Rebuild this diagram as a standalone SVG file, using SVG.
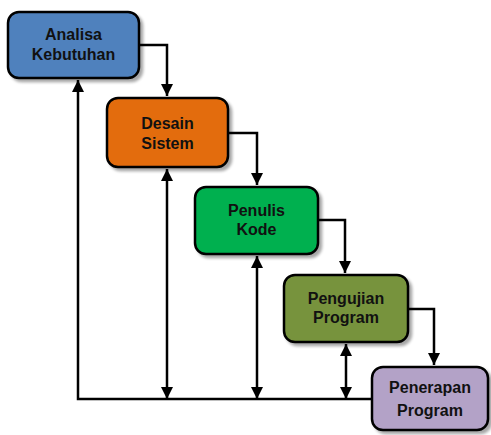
<svg xmlns="http://www.w3.org/2000/svg" width="491" height="435" viewBox="0 0 491 435">
<defs>
<marker id="ah" viewBox="0 0 12 12" refX="12" refY="6" markerWidth="12" markerHeight="12" markerUnits="userSpaceOnUse" orient="auto-start-reverse">
<path d="M0,0 L12,6 L0,12 Z" fill="#000"/>
</marker>
<filter id="sh" x="-10%" y="-10%" width="130%" height="130%">
<feGaussianBlur in="SourceAlpha" stdDeviation="1.5"/>
<feOffset dx="3" dy="3" result="b"/>
<feComponentTransfer><feFuncA type="linear" slope="0.35"/></feComponentTransfer>
<feMerge><feMergeNode/><feMergeNode in="SourceGraphic"/></feMerge>
</filter>
</defs>
<style>
.box{stroke:#000;stroke-width:2.5;filter:url(#sh)}
.t{font-family:"Liberation Sans",Arial,sans-serif;font-weight:bold;font-size:16px;fill:#111;text-anchor:middle}
.c{fill:none;stroke:#000;stroke-width:2.5}
</style>
<g id="connectors">
<path class="c" d="M139,45 H167 V96" marker-end="url(#ah)"/>
<path class="c" d="M228,133 H257 V185" marker-end="url(#ah)"/>
<path class="c" d="M318,220 H345 V273" marker-end="url(#ah)"/>
<path class="c" d="M408,309 H434 V365" marker-end="url(#ah)"/>
<path class="c" d="M372,399 H78 V80" marker-end="url(#ah)"/>
<path class="c" d="M167,169 V399" marker-start="url(#ah)" marker-end="url(#ah)"/>
<path class="c" d="M257,256 V399" marker-start="url(#ah)" marker-end="url(#ah)"/>
<path class="c" d="M346,344 V399" marker-start="url(#ah)" marker-end="url(#ah)"/>
</g>
<g id="analisa">
<rect class="box" x="8" y="12" width="131" height="66" rx="11" fill="#4F81BD"/>
<text class="t" x="73.5" y="40">Analisa</text>
<text class="t" x="73.5" y="60">Kebutuhan</text>
</g>
<g id="desain">
<rect class="box" x="107" y="98" width="121" height="69" rx="11" fill="#E36C0A"/>
<text class="t" x="167.5" y="129">Desain</text>
<text class="t" x="167.5" y="149">Sistem</text>
</g>
<g id="penulis">
<rect class="box" x="195" y="187" width="123" height="67" rx="11" fill="#00B050"/>
<text class="t" x="256.5" y="216">Penulis</text>
<text class="t" x="256.5" y="235">Kode</text>
</g>
<g id="pengujian">
<rect class="box" x="284" y="275" width="124" height="67" rx="11" fill="#77933C"/>
<text class="t" x="346" y="304">Pengujian</text>
<text class="t" x="346" y="323">Program</text>
</g>
<g id="penerapan">
<rect class="box" x="372" y="367" width="116" height="63" rx="11" fill="#B3A2C7"/>
<text class="t" x="430" y="393">Penerapan</text>
<text class="t" x="430" y="416">Program</text>
</g>
</svg>
